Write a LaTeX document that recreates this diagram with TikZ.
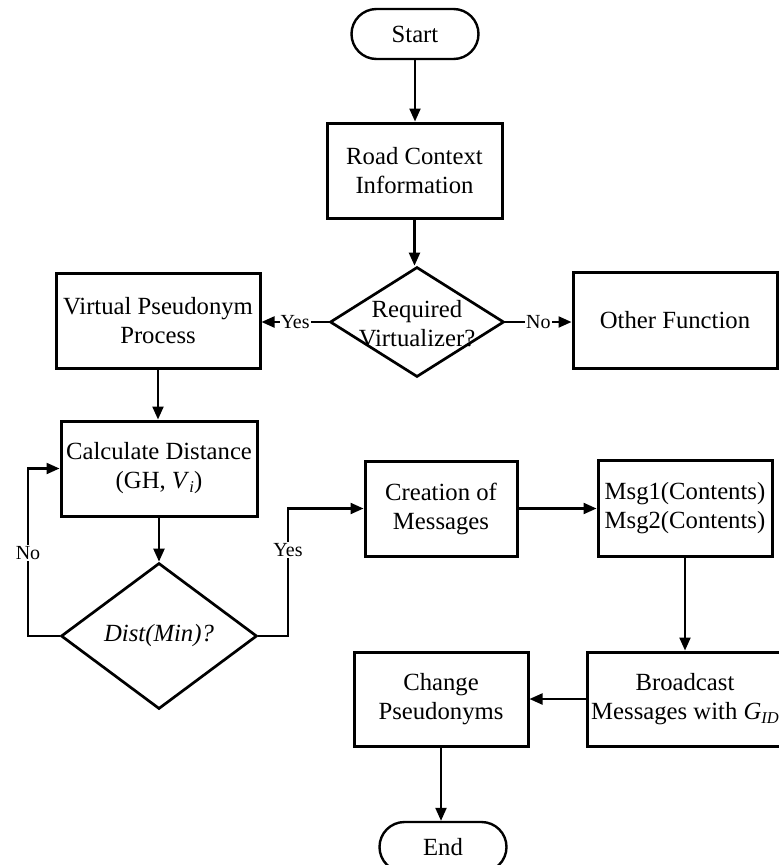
\documentclass[tikz,border=0pt]{standalone}
\usepackage{fontspec}
\setmainfont{Liberation Serif}
\usetikzlibrary{shapes.geometric,arrows.meta,calc}

% italic subscript set slightly lowered and smaller
\newcommand\mysub[1]{\raisebox{-0.35ex}{\fontsize{16.5}{16.5}\selectfont\textit{#1}}}

\tikzset{
  base/.style={font=\fontsize{24.7}{29}\selectfont, align=center, inner sep=0pt},
  procbox/.style={base, draw, rectangle, line width=3pt},
  termbox/.style={base, draw, rectangle, rounded corners=25pt, line width=2.4pt,
                  minimum width=127pt, minimum height=50pt},
  decision/.style={base, draw, diamond, line width=2.7pt},
  flowarrow/.style={line width=2.2pt, -{Triangle[length=13pt,width=11pt]}},
  edgelabel/.style={font=\fontsize{20}{23}\selectfont, fill=white, inner sep=1pt}
}

\begin{document}
\begin{tikzpicture}[x=1pt,y=-1pt]
\useasboundingbox (0,0) rectangle (779,865);
\clip (0,0) rectangle (779,865);

% terminators
\node[termbox] (start) at (415,34) {Start};
\node[termbox] (end)   at (443,847) {End};

% process boxes
\node[procbox, minimum width=175pt, minimum height=95pt] (road)  at (414.5,170.5) {Road Context\\Information};
\node[procbox, minimum width=204pt, minimum height=95pt] (virt)  at (158,320.5) {Virtual Pseudonym\\Process};
\node[procbox, minimum width=204pt, minimum height=96pt] (other) at (675,320) {Other Function};
\node[procbox, minimum width=196pt, minimum height=95pt] (calc)  at (159,468.5) {Calculate Distance\\(GH, \textit{V}\mysub{i})};
\node[procbox, minimum width=152pt, minimum height=95pt] (create) at (441,508.5) {Creation of\\Messages};
\node[procbox, minimum width=174pt, minimum height=96pt] (msg)   at (685,508) {Msg1(Contents)\\Msg2(Contents)};
\node[procbox, minimum width=196pt, minimum height=94pt] (bcast) at (685,699) {Broadcast\\Messages with \textit{G}\mysub{ID}};
\node[procbox, minimum width=174pt, minimum height=94pt] (change) at (441,699) {Change\\Pseudonyms};

% decisions: outline nodes with their text laid on top
\node[decision, minimum width=174pt, minimum height=110pt] (req) at (417,322) {};
\node[base] (reqtext) at (417,324) {Required\\Virtualizer?};
\node[decision, minimum width=196pt, minimum height=146pt] (dist) at (159,636) {};
\node[base, font=\fontsize{24.7}{29}\selectfont\itshape] (disttext) at (159,636) {Dist(Min)?};

% connectors
\draw[flowarrow] (start.south) -- (start.south |- road.north);
\draw[flowarrow] (road.south) -- (road.south |- req.north);
\draw[flowarrow] (req.west) -- node[edgelabel] {Yes} (virt.east |- req.west);
\draw[flowarrow] (req.east) -- node[edgelabel] {No} (other.west |- req.east);
\draw[flowarrow] (virt.south) -- (virt.south |- calc.north);
\draw[flowarrow] (calc.south) -- (calc.south |- dist.north);

\coordinate (loopL) at (28,636);
\draw[flowarrow] (dist.west) -- (loopL) |- (calc.west);
\node[edgelabel] (nolabel) at (28,553) {No};

\coordinate (loopR) at (288,636);
\draw[flowarrow] (dist.east) -- (loopR) |- (create.west);
\node[edgelabel] (yeslabel) at (288,550) {Yes};

\draw[flowarrow] (create.east) -- (msg.west |- create.east);
\draw[flowarrow] (msg.south) -- (bcast.north);
\draw[flowarrow] (bcast.west) -- (change.east);
\draw[flowarrow] (change.south) -- (change.south |- end.north);
\end{tikzpicture}
\end{document}
